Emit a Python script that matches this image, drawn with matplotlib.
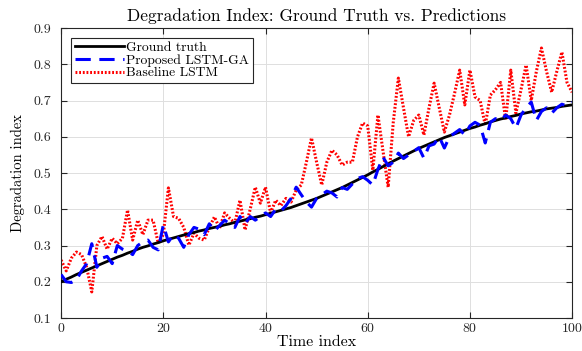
import numpy as np
import matplotlib
matplotlib.use("Agg")
import matplotlib.pyplot as plt

plt.rcParams['font.family'] = 'serif'
plt.rcParams['font.serif'] = ['cmr10', 'DejaVu Serif']
plt.rcParams['axes.formatter.use_mathtext'] = True

# time axis
time_index = np.arange(0, 101)

# ground truth degradation
ground_truth = [
    0.200, 0.207, 0.213, 0.220, 0.226, 0.232, 0.238, 0.244, 0.250, 0.256,
    0.262, 0.268, 0.273, 0.279, 0.284, 0.290, 0.295, 0.299, 0.304, 0.308,
    0.313, 0.317, 0.321, 0.325, 0.329, 0.333, 0.336, 0.340, 0.343, 0.347,
    0.350, 0.353, 0.357, 0.360, 0.364, 0.367, 0.371, 0.374, 0.378, 0.381,
    0.385, 0.389, 0.393, 0.397, 0.401, 0.405, 0.410, 0.415, 0.420, 0.425,
    0.430, 0.436, 0.442, 0.448, 0.454, 0.460, 0.467, 0.474, 0.481, 0.488,
    0.495, 0.503, 0.510, 0.518, 0.525, 0.533, 0.540, 0.547, 0.554, 0.561,
    0.568, 0.574, 0.580, 0.586, 0.592, 0.598, 0.603, 0.608, 0.613, 0.618,
    0.623, 0.627, 0.632, 0.636, 0.641, 0.645, 0.649, 0.652, 0.656, 0.659,
    0.663, 0.666, 0.669, 0.671, 0.674, 0.677, 0.679, 0.681, 0.684, 0.686,
    0.688]

# proposed LSTM-GA prediction
lstm_ga = [
    0.220, 0.200, 0.198, 0.205, 0.230, 0.250, 0.305, 0.240, 0.265, 0.270,
    0.250, 0.300, 0.290, 0.285, 0.275, 0.300, 0.310, 0.315, 0.295, 0.288,
    0.357, 0.310, 0.330, 0.320, 0.295, 0.330, 0.350, 0.345, 0.330, 0.360,
    0.340, 0.355, 0.370, 0.360, 0.350, 0.380, 0.360, 0.380, 0.370, 0.380,
    0.390, 0.380, 0.400, 0.395, 0.410, 0.430, 0.461, 0.440, 0.420, 0.406,
    0.430, 0.440, 0.450, 0.445, 0.434, 0.460, 0.455, 0.470, 0.485, 0.490,
    0.480, 0.467, 0.510, 0.544, 0.520, 0.530, 0.555, 0.540, 0.550, 0.560,
    0.570, 0.541, 0.575, 0.580, 0.600, 0.569, 0.600, 0.610, 0.620, 0.605,
    0.630, 0.640, 0.632, 0.583, 0.640, 0.650, 0.645, 0.660, 0.650, 0.624,
    0.660, 0.680, 0.696, 0.645, 0.670, 0.680, 0.665, 0.680, 0.690, 0.685,
    0.695]

# baseline LSTM prediction
baseline_lstm = [
    0.260, 0.230, 0.265, 0.282, 0.275, 0.240, 0.172, 0.300, 0.325, 0.290,
    0.320, 0.305, 0.320, 0.398, 0.315, 0.370, 0.330, 0.370, 0.370, 0.307,
    0.330, 0.459, 0.380, 0.375, 0.350, 0.301, 0.334, 0.320, 0.315, 0.350,
    0.379, 0.348, 0.390, 0.375, 0.362, 0.425, 0.343, 0.400, 0.461, 0.417,
    0.461, 0.390, 0.425, 0.410, 0.430, 0.420, 0.453, 0.467, 0.530, 0.597,
    0.530, 0.467, 0.530, 0.563, 0.550, 0.522, 0.530, 0.530, 0.600, 0.638,
    0.630, 0.508, 0.660, 0.560, 0.461, 0.640, 0.762, 0.680, 0.600, 0.645,
    0.660, 0.605, 0.680, 0.748, 0.680, 0.613, 0.660, 0.720, 0.784, 0.688,
    0.784, 0.710, 0.700, 0.632, 0.715, 0.730, 0.750, 0.646, 0.784, 0.665,
    0.730, 0.798, 0.700, 0.780, 0.845, 0.780, 0.723, 0.780, 0.834, 0.750,
    0.723]

fig = plt.figure(figsize=(5.82, 3.51), dpi=100)
ax = fig.add_axes([0.105, 0.094, 0.878, 0.826])

ax.plot(time_index, ground_truth, color='black', lw=2.0, label='Ground truth', zorder=3)
ax.plot(time_index, lstm_ga, color='blue', lw=2.2, ls=(0, (5, 2.8)), label='Proposed LSTM-GA', zorder=4)
ax.plot(time_index, baseline_lstm, color='red', lw=2.2, ls=(0, (0.6, 0.6)), label='Baseline LSTM', zorder=2)

ax.set_xlim(0, 100)
ax.set_ylim(0.1, 0.9)
ax.set_xticks(np.arange(0, 101, 20))
ax.set_yticks(np.arange(0.1, 0.91, 0.1))
ax.set_yticklabels(['0.1', '0.2', '0.3', '0.4', '0.5', '0.6', '0.7', '0.8', '0.9'])
ax.tick_params(direction='in', top=True, right=True, labelsize=10, length=4, colors='#262626')
ax.tick_params(axis='y', pad=7)
ax.tick_params(axis='x', pad=3)
ax.grid(True, color='#dedede', lw=0.7)
ax.set_axisbelow(True)
for s in ax.spines.values():
    s.set_color('#262626')
    s.set_linewidth(0.8)

ax.set_title('Degradation Index: Ground Truth vs. Predictions', fontsize=12.5, pad=5)
ax.set_xlabel('Time index', fontsize=11.5, labelpad=0)
ax.set_ylabel('Degradation index', fontsize=10.5, labelpad=6)

leg = ax.legend(loc='upper left', fontsize=9.8, fancybox=False, framealpha=1,
                edgecolor='#262626', handlelength=3.6, borderpad=0.25,
                labelspacing=0.0, handletextpad=0.2, borderaxespad=0.75)
leg.get_frame().set_linewidth(0.8)

fig.savefig('out.png', dpi=100)
